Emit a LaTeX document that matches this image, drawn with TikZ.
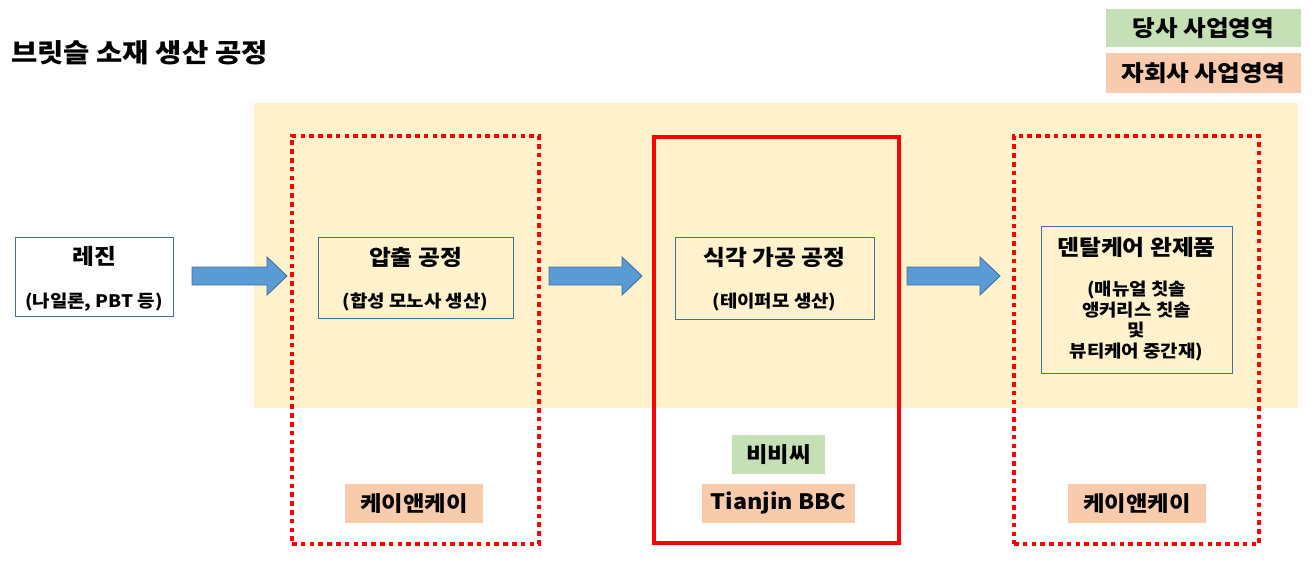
\documentclass[tikz,border=0pt]{standalone}
\usepackage{fontspec}
\setmainfont{Noto Sans CJK KR}[FakeStretch=1.1]
\usetikzlibrary{calc}
\definecolor{bgyellow}{HTML}{FFF2CC}
\definecolor{owngreen}{HTML}{C5E0B4}
\definecolor{suborange}{HTML}{F8CBAD}
\definecolor{boxline}{HTML}{41719C}
\definecolor{arrowblue}{HTML}{5B9BD5}
\tikzset{
  procbox/.style={draw=boxline, line width=0.9pt, inner sep=0pt},
  ttl/.style={inner sep=0pt, font=\fontsize{21.6}{26}\selectfont\bfseries},
  sub/.style={inner sep=0pt, align=center, font=\fontsize{17.2}{20.7}\selectfont\bfseries},
  dotbox/.style={draw=red, line width=4.4pt, dash pattern=on 4.6pt off 4.2pt, inner sep=0pt},
  solidbox/.style={draw=red, line width=4.5pt, inner sep=0pt},
  lbl/.style={inner sep=0pt, minimum height=39, font=\fontsize{21.2}{25}\selectfont\bfseries},
  blockarr/.style={fill=arrowblue, draw=boxline, line width=0.9pt}
}
\begin{document}
\begin{tikzpicture}[x=1pt,y=-1pt]
\useasboundingbox (0,0) rectangle (1314,567);
% title and legend
\node[anchor=west, inner sep=0pt, font=\fontsize{26}{31}\selectfont\bfseries] (title) at (11,53) {브릿슬 소재 생산 공정};
\node[lbl, fill=owngreen, minimum width=195, minimum height=38, font=\fontsize{22.4}{26}\selectfont\bfseries] (own) at (1203.5,28.5) {당사 사업영역};
\node[lbl, fill=suborange, minimum width=195, minimum height=40, font=\fontsize{22.4}{26}\selectfont\bfseries] (subs) at (1203.5,73) {자회사 사업영역};
% yellow area
\fill[bgyellow] (254,103) rectangle (1298,408);
% company frames
\node[dotbox, minimum width=247, minimum height=408] (kk1) at (415.5,340) {};
\node[solidbox, minimum width=245, minimum height=406] (bbc) at (776.5,340) {};
\node[dotbox, minimum width=245, minimum height=408] (kk2) at (1136.5,340) {};
% process steps
\node[procbox, fill=white, minimum width=158, minimum height=79] (resin) at (94,276.5) {};
\node[ttl] (resinT) at (94,256) {레진};
\node[sub] (resinS) at (94,302) {(나일론, PBT 등)};
\node[procbox, minimum width=195, minimum height=81] (extr) at (415.5,277.5) {};
\node[ttl] (extrT) at (415.5,257) {압출 공정};
\node[sub] (extrS) at (415.5,302) {(합성 모노사 생산)};
\node[procbox, minimum width=199, minimum height=82] (etch) at (774.5,278) {};
\node[ttl] (etchT) at (774.5,257) {식각 가공 공정};
\node[sub] (etchS) at (774.5,302) {(테이퍼모 생산)};
\node[procbox, minimum width=191, minimum height=147] (dental) at (1136.5,299.5) {};
\node[ttl] (dentalT) at (1136.5,247) {덴탈케어 완제품};
\node[sub] (dentalS) at (1136.5,321) {(매뉴얼 칫솔\\앵커리스 칫솔\\및\\뷰티케어 중간재)};
% arrows
\coordinate (a1s) at (192,276); \coordinate (a1e) at (287,276);
\coordinate (a2s) at (549,276); \coordinate (a2e) at (642,276);
\coordinate (a3s) at (907,276); \coordinate (a3e) at (1000,276);
\foreach \s/\e in {a1s/a1e, a2s/a2e, a3s/a3e}
  \draw[blockarr] ($(\s)+(0,-9)$) -- ($(\e)+(-20,-9)$) -- ($(\e)+(-20,-19)$) -- (\e)
    -- ($(\e)+(-20,19)$) -- ($(\e)+(-20,9)$) -- ($(\s)+(0,9)$) -- cycle;
% company labels
\node[lbl, fill=suborange, minimum width=138] (kk1L) at (414,503.5) {케이앤케이};
\node[lbl, fill=owngreen, minimum width=93] (bbcL) at (778.5,454.5) {비비씨};
\node[lbl, fill=suborange, minimum width=153] (tjL) at (778.5,503.5) {Tianjin BBC};
\node[lbl, fill=suborange, minimum width=138] (kk2L) at (1137,503.5) {케이앤케이};
\end{tikzpicture}
\end{document}
